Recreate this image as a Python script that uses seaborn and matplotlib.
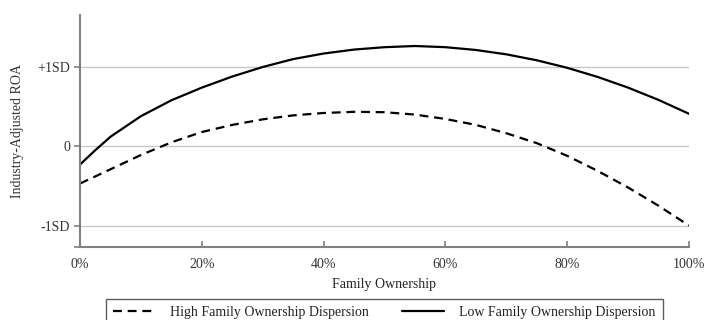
import matplotlib
matplotlib.use("Agg")
import matplotlib.pyplot as plt
import numpy as np
import pandas as pd
import seaborn as sns

# Family ownership share (%) and industry-adjusted ROA (in SD units)
ownership = [0, 2.5, 5, 10, 15, 20, 25, 30, 35, 40, 45, 50,
             55, 60, 65, 70, 75, 80, 85, 90, 95, 100]
high_dispersion = [-0.47, -0.38, -0.29, -0.11, 0.05, 0.18, 0.27, 0.34, 0.39, 0.42, 0.435, 0.43,
                   0.40, 0.345, 0.27, 0.165, 0.04, -0.12, -0.31, -0.52, -0.75, -1.00]
low_dispersion = [-0.23, -0.05, 0.12, 0.38, 0.58, 0.74, 0.88, 1.00, 1.10, 1.17, 1.22, 1.25,
                  1.265, 1.25, 1.215, 1.16, 1.085, 0.99, 0.875, 0.74, 0.585, 0.41]

series_names = ["High Family Ownership Dispersion", "Low Family Ownership Dispersion"]
x_ticks = [0, 20, 40, 60, 80, 100]
x_tick_labels = ["0%", "20%", "40%", "60%", "80%", "100%"]
y_ticks = [-1, 0, 1]
y_tick_labels = ["-1SD", "0", "+1SD"]

df = pd.concat([
    pd.DataFrame({"ownership": ownership, "roa": high_dispersion, "group": series_names[0]}),
    pd.DataFrame({"ownership": ownership, "roa": low_dispersion, "group": series_names[1]}),
])

sns.set_theme(style="white")
plt.rcParams["font.family"] = ["Liberation Serif", "DejaVu Serif"]

fig = plt.figure(figsize=(7.04, 3.2), dpi=100)
ax = fig.add_axes([80 / 704, 1 - 247 / 320, 609 / 704, 232 / 320])

sns.lineplot(data=df, x="ownership", y="roa", hue="group", style="group",
             palette={series_names[0]: "black", series_names[1]: "black"},
             dashes={series_names[0]: (4, 2.6), series_names[1]: ""},
             linewidth=1.6, legend=False, ax=ax, sort=True)

ax.set_xlim(0, 100)
ax.set_ylim(-1.27, 1.656)

ax.set_yticks(y_ticks)
ax.set_yticklabels(y_tick_labels)
ax.set_yticks([-1.27], minor=True)
ax.set_xticks(x_ticks)
ax.set_xticklabels(x_tick_labels)

ax.grid(axis="y", color="#c8c8c8", linewidth=1.0)
ax.set_axisbelow(True)

for side in ["top", "right"]:
    ax.spines[side].set_visible(False)
for side in ["left", "bottom"]:
    ax.spines[side].set_color("#808080")
    ax.spines[side].set_linewidth(1.5)

ax.tick_params(axis="y", which="both", direction="out", length=4, width=1.2,
               color="#808080", labelsize=10, labelcolor="#333333", pad=3, left=True)
ax.tick_params(axis="x", direction="in", length=4, width=1.2,
               color="#808080", labelsize=10, labelcolor="#333333", pad=8, bottom=True)

ax.set_xlabel("Family Ownership", fontsize=10, color="#222222", labelpad=5)
ax.set_ylabel("Industry-Adjusted ROA", fontsize=10, color="#333333", labelpad=10)

handles = ax.get_lines()[:2]
leg = fig.legend(handles, series_names, loc="upper center",
                 bbox_to_anchor=(384.5 / 704, 1 - 299 / 320), ncol=2,
                 frameon=True, fancybox=False, shadow=False,
                 fontsize=10, handlelength=3.0, handletextpad=1.1,
                 columnspacing=2.4, borderpad=0.5, borderaxespad=0)
leg.get_frame().set_edgecolor("#333333")
leg.get_frame().set_linewidth(1.0)
for t in leg.get_texts():
    t.set_color("#222222")

fig.savefig("out.png", dpi=100)
